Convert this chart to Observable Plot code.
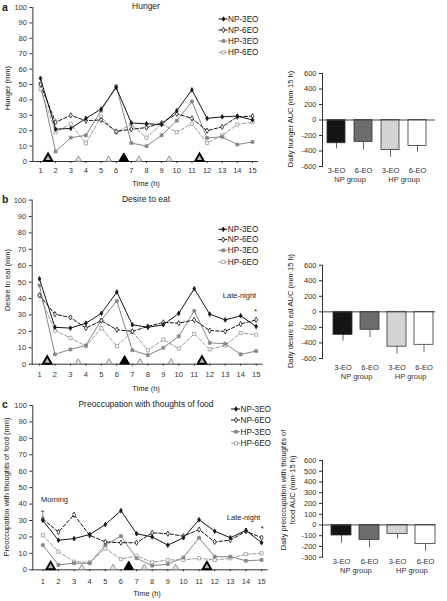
<!DOCTYPE html>
<html><head><meta charset="utf-8">
<script src="https://cdn.jsdelivr.net/npm/d3@7"></script>
<script src="https://cdn.jsdelivr.net/npm/@observablehq/plot@0.6"></script>
<style>
body{margin:0;background:#fff;}
#root{position:relative;width:447px;height:601px;overflow:hidden;font-family:"Liberation Sans",Arial,sans-serif;background:#fff;}
</style></head><body><div id="root"></div>
<script>
// ---------- data ----------
const hours = [1,2,3,4,5,6,7,8,9,10,11,12,13,14,15];
const yTicksLine = [0,10,20,30,40,50,60,70,80,90,100];
const seriesNames = ["NP-3EO","NP-6EO","HP-3EO","HP-6EO"];

const hungerNP3 = [54,21,21.5,28,34,48,25,24.5,24,33,46.5,28,29,29.5,27];
const hungerNP6 = [50,25.5,30,26.5,27,19.5,21,22,25,31,28,20,22.5,29,29.5];
const hungerHP3 = [50.5,6.5,15.5,17,33,49,12,10,17,26.5,39,15.3,16,11,12.7];
const hungerHP6 = [47,19,24.5,11.8,29,19,24,15.5,24.5,19,24.5,12,17,24,25.5];

const desireNP3 = [52,22.5,22,25,31,44,24,22.5,24,31,46,30.5,27,29.5,23];
const desireNP6 = [42,30.5,28.5,22,26.5,21,20,23,25.5,25,27,20.5,20,24.5,27];
const desireHP3 = [48,6,9,11.5,27,38.5,8.5,5.5,10,17,32.5,13,12.5,6,8];
const desireHP6 = [42,20.5,16,11,22,11,20,8.5,15,9.5,18.5,9,11.5,19,18];

const preoccNP3 = [30,18,19,21.5,27.5,36,22,20,15,19.5,30.5,23.5,19.5,24,16.5];
const preoccNP6 = [31,23,33.5,21,17,16.5,16.5,22.5,22,20.5,24.5,17,18,23.5,19.5];
const preoccHP3 = [15,3,4,4,15,20.5,7,2.5,3.5,7.5,19.5,8,8,5.5,6];
const preoccHP6 = [21,11,5,4.5,13,6.5,8.5,4.5,6,6,7,6,7,9.5,10];

const bigMealTimes = [1.5, 6.5, 11.5];
const bigMealKinds = ["open", "solid", "open"];
const smallMealTimes = [3.5, 5.5, 7.5, 9.5];

const barCats = ["NP 3-EO","NP 6-EO","HP 3-EO","HP 6-EO"];
const barGroups = ["NP group","HP group"];
const barGroupFirst = ["NP 3-EO","HP 3-EO"];
const hungerAUC = [-300,-283,-386,-334];
const hungerAUCerr = [-373,-386,-480,-416];
const desireAUC = [-296,-231,-448,-424];
const desireAUCerr = [-377,-330,-544,-523];
const preoccAUC = [-98,-139,-83,-176];
const preoccAUCerr = [-170,-210,-133,-244];
const aucTicks600 = [-600,-400,-200,0,200,400,600];
const aucTicks300 = [-300,-200,-100,0,100,200,300,400,500,600];

// ---------- styles ----------
const FONT = "Liberation Sans, Arial, sans-serif";
const styles = [
  {name:"NP-3EO", color:"#141414", dash:null,    symbol:"diamond", fill:"#141414", r:1.4},
  {name:"NP-6EO", color:"#141414", dash:"3.5,2", symbol:"diamond", fill:"#ffffff", r:1.6},
  {name:"HP-3EO", color:"#868686", dash:null,    symbol:"square",  fill:"#868686", r:1.6},
  {name:"HP-6EO", color:"#9a9a9a", dash:"3.5,2", symbol:"square",  fill:"#ffffff", r:1.8}
];
const barFills = ["#141414","#6c6c6c","#d4d4d4","#ffffff"];

const root = document.getElementById("root");
function place(node, left, top){
  node.style.position = "absolute";
  node.style.left = left + "px";
  node.style.top = top + "px";
  root.appendChild(node);
}
const plotStyle = {fontFamily: FONT, fontSize: "7.5px", color: "#333", background: "transparent", overflow: "visible"};

function linePanel(cfg){
  const rows = [];
  cfg.series.forEach((vals, i) => vals.forEach((v, j) => rows.push({s: seriesNames[i], t: hours[j], v})));
  const bigRows = bigMealTimes.map((t, i) => ({t, k: bigMealKinds[i]}));
  const marks = [];
  styles.slice().reverse().forEach(st => {
    const d = rows.filter(r => r.s === st.name);
    const o = {x:"t", y:"v", stroke: st.color, strokeWidth: 1};
    if (st.dash) o.strokeDasharray = st.dash;
    marks.push(Plot.line(d, o));
  });
  styles.slice().reverse().forEach(st => {
    const d = rows.filter(r => r.s === st.name);
    marks.push(Plot.dot(d, {x:"t", y:"v", symbol: st.symbol, r: st.r, fill: st.fill, stroke: st.color, strokeWidth: 0.8}));
  });
  marks.push(Plot.dot(smallMealTimes, {x: d => d, y: () => 0, symbol: "triangle", r: 2.3, fill: "#e6e6e6", stroke: "#8a8a8a", strokeWidth: 0.9, dy: -2}));
  marks.push(Plot.dot(bigRows.filter(d => d.k === "open"), {x: "t", y: () => 0, symbol: "triangle", r: 3.2, fill: "#b8b8b8", stroke: "#000", strokeWidth: 1.9, dy: -3}));
  marks.push(Plot.dot(bigRows.filter(d => d.k === "solid"), {x: "t", y: () => 0, symbol: "triangle", r: 3.6, fill: "#000", stroke: "#000", strokeWidth: 1, dy: -3}));
  const W = 275;
  const p = Plot.plot({
    width: W, height: cfg.height,
    marginLeft: cfg.xr[0], marginRight: W - cfg.xr[1], marginTop: cfg.mt, marginBottom: cfg.mb,
    style: plotStyle,
    x: {type: "linear", domain: cfg.xDomain, ticks: hours, tickSize: 2, tickPadding: cfg.xtp, tickFormat: d => String(d), label: null, line: true},
    y: {domain: [0, 100], ticks: yTicksLine, tickSize: 3, tickPadding: 3, tickFormat: d => String(d), label: null, line: true},
    marks
  });
  place(p, 0, cfg.top);
}

function barPanel(cfg){
  const rows = barCats.map((c, i) => ({c, v: cfg.values[i], e: cfg.errs[i], fill: barFills[i]}));
  const grows = barGroups.map((g, i) => ({g, c: barGroupFirst[i]}));
  const step = (cfg.xr[1] - cfg.xr[0]) / (barCats.length - cfg.pi);
  const p = Plot.plot({
    width: 167, height: cfg.height,
    marginLeft: 42, marginRight: 12, marginTop: cfg.mt, marginBottom: cfg.mb,
    style: plotStyle,
    color: {type: "identity"},
    x: {type: "band", domain: barCats, range: cfg.xr, paddingInner: cfg.pi, paddingOuter: 0, tickSize: 0, tickPadding: cfg.xtp, tickFormat: d => d.slice(3), label: null},
    y: {domain: cfg.yDomain, ticks: cfg.yTicks, tickSize: 3, tickPadding: 3, tickFormat: d => String(d), label: null, line: true},
    marks: [
      Plot.ruleX(rows, {x: "c", y1: "v", y2: "e", stroke: "#666", strokeWidth: 1}),
      Plot.barY(rows, {x: "c", y: "v", fill: "fill", stroke: "#333", strokeWidth: 0.8}),
      Plot.ruleY([0], {stroke: "#444"}),
      Plot.text(grows, {x: "c", text: "g", frameAnchor: "bottom", dy: cfg.gdy, dx: step / 2, fontSize: 7.5, fill: "#333"})
    ]
  });
  place(p, 280, cfg.top);
}

// ---------- panels ----------
linePanel({top: 0, height: 190, mt: 7, mb: 29, xr: [32.4, 257], xDomain: [0.5, 15.33], xtp: 4,
  series: [hungerNP3, hungerNP6, hungerHP3, hungerHP6]});
linePanel({top: 190, height: 200, mt: 9.6, mb: 26.3, xr: [31.7, 261.7], xDomain: [0.53, 15.39], xtp: 5.5,
  series: [desireNP3, desireNP6, desireHP3, desireHP6]});
linePanel({top: 395, height: 206, mt: 10, mb: 31.7, xr: [32.3, 266.7], xDomain: [0.36, 15.36], xtp: 7,
  series: [preoccNP3, preoccNP6, preoccHP3, preoccHP6]});

barPanel({top: 55, height: 135, mt: 18, mb: 24, xr: [47, 147], pi: 0.319, xtp: 1.5, gdy: 15,
  yDomain: [-600, 600], yTicks: aucTicks600, values: hungerAUC, errs: hungerAUCerr});
barPanel({top: 250, height: 135, mt: 14.7, mb: 27, xr: [53, 154], pi: 0.282, xtp: 6.5, gdy: 20.3,
  yDomain: [-600, 600], yTicks: aucTicks600, values: desireAUC, errs: desireAUCerr});
barPanel({top: 445, height: 150, mt: 15, mb: 38.3, xr: [50, 156], pi: 0.302, xtp: 1.5, gdy: 15.3,
  yDomain: [-300, 600], yTicks: aucTicks300, values: preoccAUC, errs: preoccAUCerr});

// ---------- overlay: titles, labels, annotations, legends ----------
const ov = d3.create("svg").attr("width", 447).attr("height", 601)
  .style("font-family", FONT).style("pointer-events", "none");
place(ov.node(), 0, 0);

const labels = [
  {t:"a", x:2, y:7, s:10.5, b:true, a:"start"},
  {t:"b", x:2, y:199, s:10.5, b:true, a:"start"},
  {t:"c", x:2, y:404, s:10.5, b:true, a:"start"},
  {t:"Hunger", x:146, y:6, s:8.5},
  {t:"Desire to eat", x:146, y:199, s:8.5},
  {t:"Preoccupation with thoughts of food", x:146, y:404, s:8.5},
  {t:"Time (h)", x:146, y:183, s:7.5},
  {t:"Time (h)", x:146, y:388, s:7.5},
  {t:"Time (h)", x:147, y:593, s:7.5},
  {t:"Late-night", x:239.5, y:295, s:7.5},
  {t:"*", x:255.5, y:311, s:8},
  {t:"Morning", x:54.5, y:499, s:7.5},
  {t:"†", x:42.5, y:512, s:7.5},
  {t:"Late-night", x:243.5, y:517, s:7.5},
  {t:"*", x:262, y:528, s:8}
];
labels.forEach(l => ov.append("text").attr("x", l.x).attr("y", l.y).attr("dy", "0.35em")
  .attr("text-anchor", l.a || "middle").attr("font-size", l.s).attr("font-weight", l.b ? "bold" : null)
  .attr("fill", "#222").text(l.t));

const vlabels = [
  {t:["Hunger (mm)"], x:7, y:88},
  {t:["Desire to eat (mm)"], x:7, y:280},
  {t:["Preoccupation with thoughts of food (mm)"], x:6.5, y:487},
  {t:["Daily hunger AUC (mm·15 h)"], x:290, y:119},
  {t:["Daily desire to eat AUC (mm·15 h)"], x:290.5, y:311},
  {t:["Daily preoccupation with thoughts of", "food AUC (mm·15 h)"], x:283, y:490}
];
vlabels.forEach(l => l.t.forEach((line, i) => ov.append("text")
  .attr("transform", `translate(${l.x + i * 9.5},${l.y}) rotate(-90)`).attr("dy", "0.35em")
  .attr("text-anchor", "middle").attr("font-size", 7.5).attr("fill", "#222").text(line)));

const legends = [{x:218.5, y:[19,30,41,52.3]}, {x:218.3, y:[229.3,239.6,250.3,262]}, {x:231, y:[409,420,431.7,443.3]}];
const symType = {diamond: d3.symbolDiamond, square: d3.symbolSquare};
legends.forEach(L => styles.forEach((st, i) => {
  const y = L.y[i];
  ov.append("line").attr("x1", L.x).attr("x2", L.x + 9).attr("y1", y).attr("y2", y)
    .attr("stroke", st.color).attr("stroke-width", 1).attr("stroke-dasharray", st.dash);
  ov.append("path").attr("d", d3.symbol(symType[st.symbol], Math.PI * st.r * st.r)())
    .attr("transform", `translate(${L.x + 5},${y})`).attr("fill", st.fill).attr("stroke", st.color).attr("stroke-width", 0.8);
  ov.append("text").attr("x", L.x + 9.5).attr("y", y).attr("dy", "0.35em").attr("font-size", 8.2)
    .attr("fill", "#222").text(st.name);
}));
</script>
</body></html>
